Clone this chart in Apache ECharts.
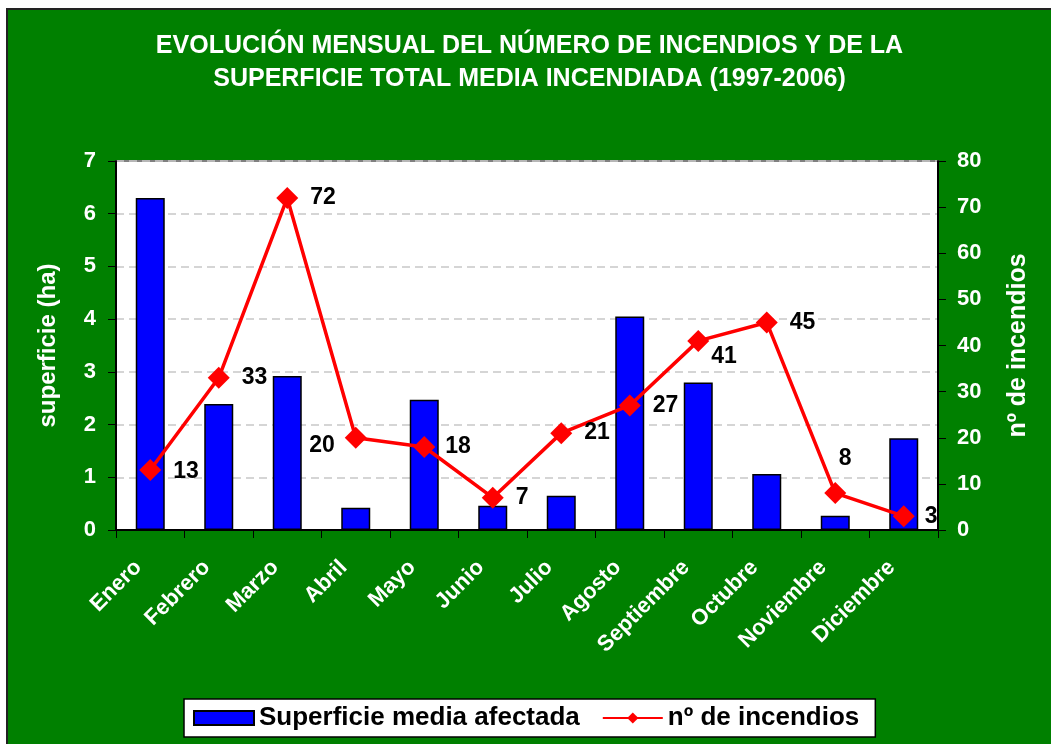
<!DOCTYPE html>
<html>
<head>
<meta charset="utf-8">
<script src="https://cdn.jsdelivr.net/npm/echarts@6/dist/echarts.min.js"></script>
<style>
  html, body { margin: 0; padding: 0; background: #fff; }
  #chart {
    position: absolute;
    left: 6px;
    top: 8px;
    width: 1043px;
    height: 734px;
    border-left: 2px solid #222;
    border-top: 2px solid #222;
  }
</style>
</head>
<body>
<div id="chart"></div>
<script>
  // meses
  const months = ['Enero', 'Febrero', 'Marzo', 'Abril', 'Mayo', 'Junio', 'Julio',
    'Agosto', 'Septiembre', 'Octubre', 'Noviembre', 'Diciembre'];
  // superficie media afectada (ha)
  const surface = [6.3, 2.39, 2.92, 0.42, 2.47, 0.46, 0.65, 4.05, 2.8, 1.06, 0.27, 1.74];
  // nº de incendios
  const fires = [13, 33, 72, 20, 18, 7, 21, 27, 41, 45, 8, 3];
  const leftTicks = { min: 0, max: 7, interval: 1 };
  const rightTicks = { min: 0, max: 80, interval: 10 };

  const font = 'Liberation Sans, Arial, sans-serif';

  // colocacion de etiquetas (igual que en el original)
  const labelPlace = [
    { position: 'right', offset: [4, 2] },
    { position: 'right', offset: [4, 0] },
    { position: 'right', offset: [4, 0] },
    { position: 'left', offset: [-2, 8] },
    { position: 'right', offset: [2, 0] },
    { position: 'right', offset: [4, 0] },
    { position: 'right', offset: [4, 0] },
    { position: 'right', offset: [4, 0] },
    { position: 'right', offset: [-6, 16] },
    { position: 'right', offset: [4, 0] },
    { position: 'top', offset: [10, -4] },
    { position: 'right', offset: [2, 0] }
  ];

  let fireData = fires.map((v, i) => ({ value: v, label: labelPlace[i] }));

  let myChart = echarts.init(document.getElementById('chart'));
  let option = {
    backgroundColor: '#008000',
    animation: false,
    textStyle: { fontFamily: font },
    title: {
      text: 'EVOLUCIÓN MENSUAL DEL NÚMERO DE INCENDIOS Y DE LA\nSUPERFICIE TOTAL MEDIA INCENDIADA (1997-2006)',
      left: 'center',
      top: 15,
      padding: [5, 0, 5, 26],
      textStyle: {
        color: '#fff',
        fontSize: 25,
        fontWeight: 'bold',
        lineHeight: 33,
        fontFamily: font
      }
    },
    grid: {
      left: 108,
      top: 151,
      width: 822,
      height: 369,
      show: true,
      backgroundColor: '#fff',
      borderColor: '#808080',
      borderWidth: 2
    },
    legend: {
      left: 176,
      top: 689,
      backgroundColor: '#fff',
      borderColor: '#000',
      borderWidth: 1.5,
      borderRadius: 0,
      padding: [6, 16, 6, 9],
      itemWidth: 60,
      itemHeight: 14,
      itemGap: 22,
      textStyle: { color: '#000', fontSize: 26, fontWeight: 'bold', fontFamily: font },
      data: [
        { name: 'Superficie media afectada', icon: 'rect' },
        { name: 'nº de incendios' }
      ]
    },
    xAxis: {
      type: 'category',
      data: months,
      axisLine: { lineStyle: { color: '#000', width: 2 } },
      axisTick: { show: true, length: 8, lineStyle: { color: '#000', width: 1 } },
      axisLabel: {
        color: '#fff',
        fontSize: 22,
        fontWeight: 'bold',
        rotate: 45,
        margin: 22,
        padding: [0, 17, 0, 0],
        fontFamily: font
      }
    },
    yAxis: [
      {
        type: 'value',
        min: leftTicks.min,
        max: leftTicks.max,
        interval: leftTicks.interval,
        name: 'superficie (ha)',
        nameLocation: 'middle',
        nameGap: 56,
        nameTextStyle: { color: '#fff', fontSize: 24, fontWeight: 'bold', fontFamily: font },
        axisLine: { show: true, lineStyle: { color: '#000', width: 2 } },
        axisTick: { show: true, length: 8, lineStyle: { color: '#000' } },
        axisLabel: { color: '#fff', fontSize: 22, fontWeight: 'bold', margin: 20, fontFamily: font },
        splitLine: { show: true, lineStyle: { color: '#c8c8c8', type: [8, 5], width: 1.5 } }
      },
      {
        type: 'value',
        min: rightTicks.min,
        max: rightTicks.max,
        interval: rightTicks.interval,
        position: 'right',
        name: 'nº de incendios',
        nameLocation: 'middle',
        nameGap: 68,
        nameTextStyle: { color: '#fff', fontSize: 25, fontWeight: 'bold', fontFamily: font },
        axisLine: { show: true, lineStyle: { color: '#000', width: 2 } },
        axisTick: { show: true, length: 8, lineStyle: { color: '#000' } },
        axisLabel: { color: '#fff', fontSize: 22, fontWeight: 'bold', margin: 19, fontFamily: font },
        splitLine: { show: false }
      }
    ],
    series: [
      {
        name: 'Superficie media afectada',
        type: 'bar',
        yAxisIndex: 0,
        data: surface,
        barWidth: 29,
        itemStyle: { color: '#0000ff', borderColor: '#000', borderWidth: 1.5 }
      },
      {
        name: 'nº de incendios',
        type: 'line',
        yAxisIndex: 1,
        data: fireData,
        symbol: 'diamond',
        symbolSize: 22,
        lineStyle: { color: '#ff0000', width: 3.5 },
        itemStyle: { color: '#ff0000' },
        label: {
          show: true,
          color: '#000',
          fontSize: 23,
          fontWeight: 'bold',
          distance: 8,
          fontFamily: font
        },
        z: 3
      }
    ]
  };
  myChart.setOption(option);
</script>
</body>
</html>
